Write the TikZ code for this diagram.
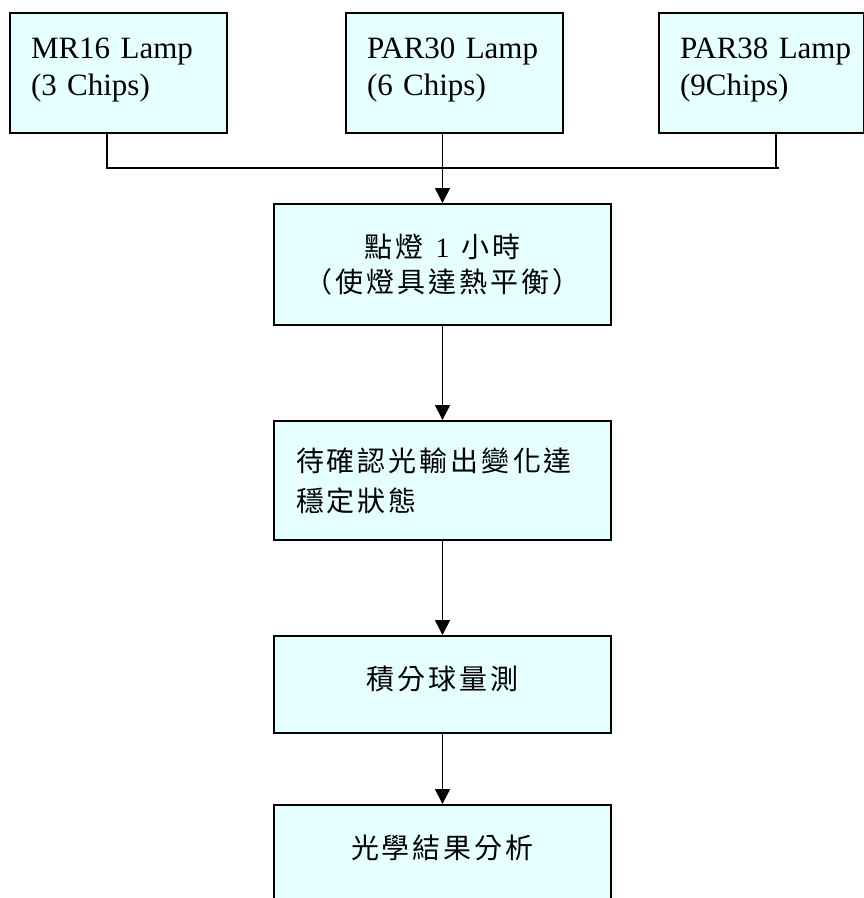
\documentclass[tikz,border=0pt]{standalone}
\usepackage{fontspec}
\setmainfont{Liberation Serif}
\newfontfamily\cjk{Noto Sans CJK TC}
\usetikzlibrary{arrows.meta}

% spaced-out CJK characters, as set on a character grid
\ExplSyntaxOn
\NewDocumentCommand\spreadcjk{O{3pt}m}
  { {\cjk \hspace{-#1} \tl_map_inline:nn {#2} { \hspace{#1} ##1 } } }
\ExplSyntaxOff

% a single line sitting a little above the middle of its box
\newcommand\oneline[1]{\raisebox{-5pt}[0pt][0pt]{#1}}

\definecolor{boxfill}{HTML}{E6FFFF}

\begin{document}
\begin{tikzpicture}[x=1pt,y=-1pt,
  box/.style={draw=black, line width=2pt, fill=boxfill, inner ysep=0pt},
  lamp/.style={box, anchor=north west, minimum height=120pt, inner xsep=21pt,
    text width=175pt, text depth=49pt, align=left,
    font=\fontsize{31pt}{37pt}\selectfont},
  stepbox/.style={box, anchor=north west, minimum width=337pt, inner xsep=0pt,
    font=\fontsize{28pt}{35pt}\selectfont},
  link/.style={line width=1.7pt},
  arr/.style={line width=1.7pt, -{Triangle[width=15pt,length=15pt]}}]
\clip (0,0) rectangle (864,898);

% the three lamp types
\node[lamp] (mr) at (9,12) {\mbox{MR16 Lamp}\\(3 Chips)};
\node[lamp] (p30) at (345,12) {\mbox{PAR30 Lamp}\\(6 Chips)};
\node[lamp, text width=163pt] (p38) at (658,12) {\mbox{PAR38 Lamp}\\(9Chips)};

% process steps
\node[stepbox, minimum height=121pt, align=center] (b2) at (273,203)
  {\spreadcjk{點燈}\hspace{12pt}1\hspace{12pt}\spreadcjk{小時}\\\spreadcjk{（使燈具達熱平衡）}};
\node[stepbox, minimum height=119pt, text width=293pt, inner xsep=22pt,
  align=left, font=\fontsize{28pt}{40pt}\selectfont] (b3) at (273,420)
  {\spreadcjk{待確認光輸出變化達}\\\spreadcjk{穩定狀態}};
\node[stepbox, minimum height=97pt] (b4) at (273,635)
  {\oneline{\spreadcjk{積分球量測}}};
\node[stepbox, minimum height=97pt] (b5) at (273,804)
  {\oneline{\spreadcjk{光學結果分析}}};

% collector line under the lamp boxes
\coordinate (j1) at (107,168);
\coordinate (j3) at (776,168);
\coordinate (jr) at (779,168);
\draw[link] (j1 |- mr.south) -- (j1) -- (jr);
\draw[link] (j3 |- p38.south) -- (j3);

% flow arrows
\draw[arr] (b2.north |- p30.south) -- (b2.north);
\draw[arr] (b2.south) -- (b3.north);
\draw[arr] (b3.south) -- (b4.north);
\draw[arr] (b4.south) -- (b5.north);
\end{tikzpicture}
\end{document}
